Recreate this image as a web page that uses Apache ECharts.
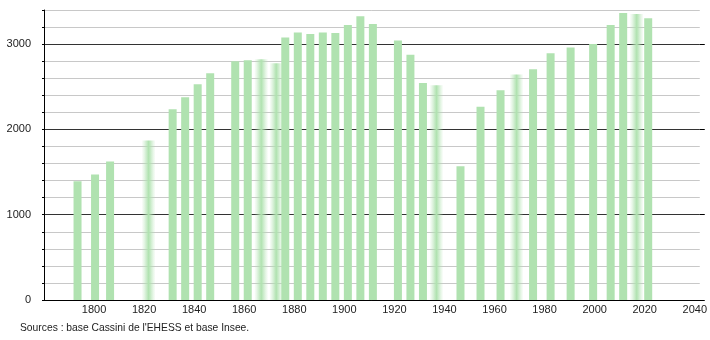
<!DOCTYPE html>
<html>
<head>
<meta charset="utf-8">
<script src="https://cdn.jsdelivr.net/npm/echarts@6/dist/echarts.min.js"></script>
<style>
html,body{margin:0;padding:0;background:#fff;}
#chart{width:710px;height:340px;}
</style>
</head>
<body>
<div id="chart"></div>
<script>
const years = [1793,1800,1806,1821,1831,1836,1841,1846,1856,1861,1866,1872,1876,1881,1886,1891,1896,1901,1906,1911,1921,1926,1931,1936,1946,1954,1962,1968,1975,1982,1990,1999,2006,2011,2016,2021];
const population = [1392,1471,1624,1871,2235,2376,2529,2659,2798,2812,2824,2776,3078,3137,3118,3137,3129,3224,3326,3235,3043,2875,2545,2518,1569,2267,2459,2643,2706,2894,2961,3000,3224,3365,3353,3302];
const blurredYears = [1821,1866,1872,1936,1968,2016];
const yMajorTicks = [0,1000,2000,3000];
const sourceText = "Sources : base Cassini de l'EHESS et base Insee.";

const green = '#b0e2b0';
const fade = new echarts.graphic.LinearGradient(0,0,1,0,[
  {offset:0,color:'rgba(176,226,176,0)'},
  {offset:0.2,color:'rgba(176,226,176,0.35)'},
  {offset:0.5,color:green},
  {offset:0.8,color:'rgba(176,226,176,0.35)'},
  {offset:1,color:'rgba(176,226,176,0)'}
]);
const solidData = [], blurData = [];
years.forEach((y,i)=>{
  if (blurredYears.indexOf(y) >= 0) blurData.push([y, population[i]]);
  else solidData.push([y, population[i]]);
});

const font = "'Liberation Sans', Arial, sans-serif";
const chart = echarts.init(document.getElementById('chart'), null, {renderer:'canvas'});
chart.setOption({
  animation:false,
  grid:{left:44,right:10,top:10,bottom:40,containLabel:false},
  xAxis:{
    type:'value', min:1780, max:2042, interval:20,
    axisLine:{show:true,lineStyle:{color:'#000',width:1}},
    axisTick:{show:false},
    splitLine:{show:false},
    axisLabel:{
      margin:4, fontSize:11, color:'#222', fontFamily:font,
      formatter:v=> (v%20===0 && v>1780) ? String(v) : ''
    }
  },
  yAxis:[{
    type:'value', min:0, max:3400, interval:200,
    axisLine:{show:true,lineStyle:{color:'#000',width:1}},
    axisTick:{show:true,length:2,lineStyle:{color:'#000'}},
    splitLine:{show:true,lineStyle:{color:['#333','#c8c8c8','#c8c8c8','#c8c8c8','#c8c8c8'],width:1}},
    axisLabel:{
      margin:13, fontSize:11, color:'#222', fontFamily:font,
      formatter:v=> (v%1000===0) ? String(v) : ''
    }
  },{
    type:'value', min:0, max:3400, interval:200,
    axisLine:{show:false},
    axisTick:{show:true,length:5,customValues:yMajorTicks,lineStyle:{color:'#000'}},
    splitLine:{show:false},
    axisLabel:{show:false}
  }],
  series:[{
    type:'bar', data:blurData, barWidth:14, barGap:'-85.714%',
    itemStyle:{color:fade}, silent:true
  },{
    type:'bar', data:solidData, barWidth:8,
    itemStyle:{color:green}, silent:true
  }],
  graphic:[{
    type:'text', left:20, top:323,
    style:{text:sourceText, fontSize:10.3, fill:'#222', fontFamily:font}
  }]
});
</script>
</body>
</html>
